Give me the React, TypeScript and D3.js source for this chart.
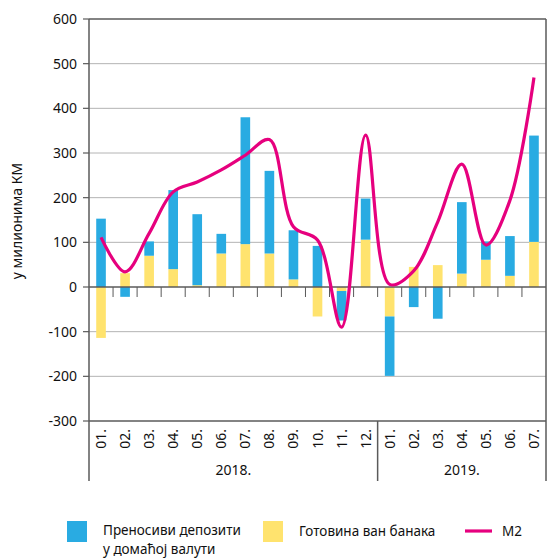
import React from "react";
import * as d3 from "d3";

const months = ["01.", "02.", "03.", "04.", "05.", "06.", "07.", "08.", "09.", "10.", "11.", "12.", "01.", "02.", "03.", "04.", "05.", "06.", "07."];
const years = ["2018.", "2019."];
const yearMonthCounts = [12, 7];
const transferable = [153, -22, 32, 177, 159, 44, 284, 185, 110, 92, -66, 92, -133, -45, -71, 160, 41, 89, 238];
const cash = [-114, 31, 70, 40, 4, 75, 96, 75, 17, -66, -9, 106, -66, 45, 49, 30, 61, 25, 101];
const m2 = [111, 34, 120, 213, 235, 262, 295, 330, 135, 105, -90, 340, 6, 36, 146, 275, 94, 194, 469];
const yTicks = [600, 500, 400, 300, 200, 100, 0, -100, -200, -300];
const legendLabels = ["Преносиви депозити", "у домаћој валути", "Готовина ван банака", "M2"];
const yTitle = "у милионима КМ";

const BLUE = "#29abe2";
const YELLOW = "#ffe36e";
const MAGENTA = "#e6007e";
const AXIS = "#5a5a5a";
const GRID = "#b4b4b4";
const FONT = "'Noto Sans', 'Open Sans', sans-serif";

export default function App() {
  const W = 552, H = 558;
  const left = 89, right = 546, top = 19, bottom = 421;
  const idx = months.map((_, i) => i);
  const x = d3.scaleBand<number>().domain(idx).range([left, right]).paddingInner(0).paddingOuter(0);
  const y = d3.scaleLinear().domain([-300, 600]).range([bottom, top]);
  const bw = x.bandwidth() * 0.4;

  const table = idx.map((i) => ({ i, cash: cash[i], transferable: transferable[i] }));
  const stacked = d3.stack<any>().keys(["cash", "transferable"]).offset(d3.stackOffsetDiverging)(table);
  const colors: Record<string, string> = { cash: YELLOW, transferable: BLUE };

  const line = d3
    .line<number>()
    .x((_, i) => (x(i) as number) + x.bandwidth() / 2)
    .y((d) => y(d))
    .curve(d3.curveCatmullRom.alpha(0.5));

  const y0 = y(0);
  const axisBottomExt = 481;
  let acc = 0;
  const yearBounds = yearMonthCounts.map((c) => {
    const s = acc;
    acc += c;
    return [s, acc];
  });

  return (
    <svg width={W} height={H} style={{ position: "absolute", left: 0, top: 0, fontFamily: FONT }}>
      {/* gridlines */}
      {yTicks.filter((t) => t !== 0 && t !== -300 && t !== 600).map((t) => (
        <line key={t} x1={left} x2={right} y1={y(t)} y2={y(t)} stroke={GRID} strokeWidth={1} />
      ))}
      {/* bars */}
      {stacked.map((s) =>
        s.map((d, i) => (
          <rect
            key={s.key + i}
            x={(x(i) as number) + (x.bandwidth() - bw) / 2}
            y={y(Math.max(d[0], d[1]))}
            width={bw}
            height={Math.abs(y(d[0]) - y(d[1]))}
            fill={colors[s.key]}
          />
        ))
      )}
      {/* zero line and month ticks */}
      <line x1={left} x2={right} y1={y0} y2={y0} stroke={AXIS} strokeWidth={1.5} />
      {idx.slice(1).map((i) => (
        <line key={i} x1={x(i)} x2={x(i)} y1={y0} y2={y0 + 10} stroke={AXIS} strokeWidth={1} />
      ))}
      {/* frame */}
      <line x1={left} x2={right} y1={top} y2={top} stroke={AXIS} strokeWidth={1.5} />
      <line x1={left} x2={right} y1={bottom} y2={bottom} stroke={AXIS} strokeWidth={1.5} />
      <line x1={left} x2={left} y1={top} y2={axisBottomExt} stroke={AXIS} strokeWidth={1.5} />
      <line x1={right} x2={right} y1={top} y2={axisBottomExt} stroke={AXIS} strokeWidth={1.5} />
      {yearBounds.slice(1).map(([s]) => (
        <line key={s} x1={x(s)} x2={x(s)} y1={bottom} y2={axisBottomExt} stroke={AXIS} strokeWidth={1.5} />
      ))}
      {/* y ticks */}
      {yTicks.map((t) => (
        <g key={t}>
          <line x1={left - 6} x2={left} y1={y(t)} y2={y(t)} stroke={AXIS} strokeWidth={1.2} />
          <text x={left - 12} y={y(t)} dy="0.35em" textAnchor="end" fontSize={14} fill="#111">
            {t}
          </text>
        </g>
      ))}
      <text transform={`translate(22,${(top + bottom) / 2 + 1}) rotate(-90)`} textAnchor="middle" fontSize={14} fill="#111">
        {yTitle}
      </text>
      {/* M2 line */}
      <path d={line(m2) as string} fill="none" stroke={MAGENTA} strokeWidth={3.2} strokeLinejoin="round" />
      {/* month labels */}
      {months.map((m, i) => (
        <text
          key={i}
          transform={`translate(${(x(i) as number) + x.bandwidth() / 2 + 5},${bottom + 8}) rotate(-90)`}
          textAnchor="end"
          fontSize={14}
          fill="#111"
        >
          {m}
        </text>
      ))}
      {/* year labels */}
      {years.map((yr, k) => {
        const [s, e] = yearBounds[k];
        const cx = ((x(s) as number) + (e >= months.length ? right : (x(e) as number))) / 2;
        return (
          <text key={yr} x={cx} y={475} textAnchor="middle" fontSize={14} fill="#111">
            {yr}
          </text>
        );
      })}
      {/* legend */}
      <rect x={67} y={521} width={20} height={21} fill={BLUE} />
      <text x={103} y={535} fontSize={13.5} fill="#111">{legendLabels[0]}</text>
      <text x={103} y={554} fontSize={13.5} fill="#111">{legendLabels[1]}</text>
      <rect x={263} y={521} width={20} height={21} fill={YELLOW} />
      <text x={299} y={536} fontSize={13.5} fill="#111">{legendLabels[2]}</text>
      <line x1={465} x2={492} y1={531} y2={531} stroke={MAGENTA} strokeWidth={3.2} />
      <text x={502} y={536} fontSize={13.5} fill="#111">{legendLabels[3]}</text>
    </svg>
  );
}
